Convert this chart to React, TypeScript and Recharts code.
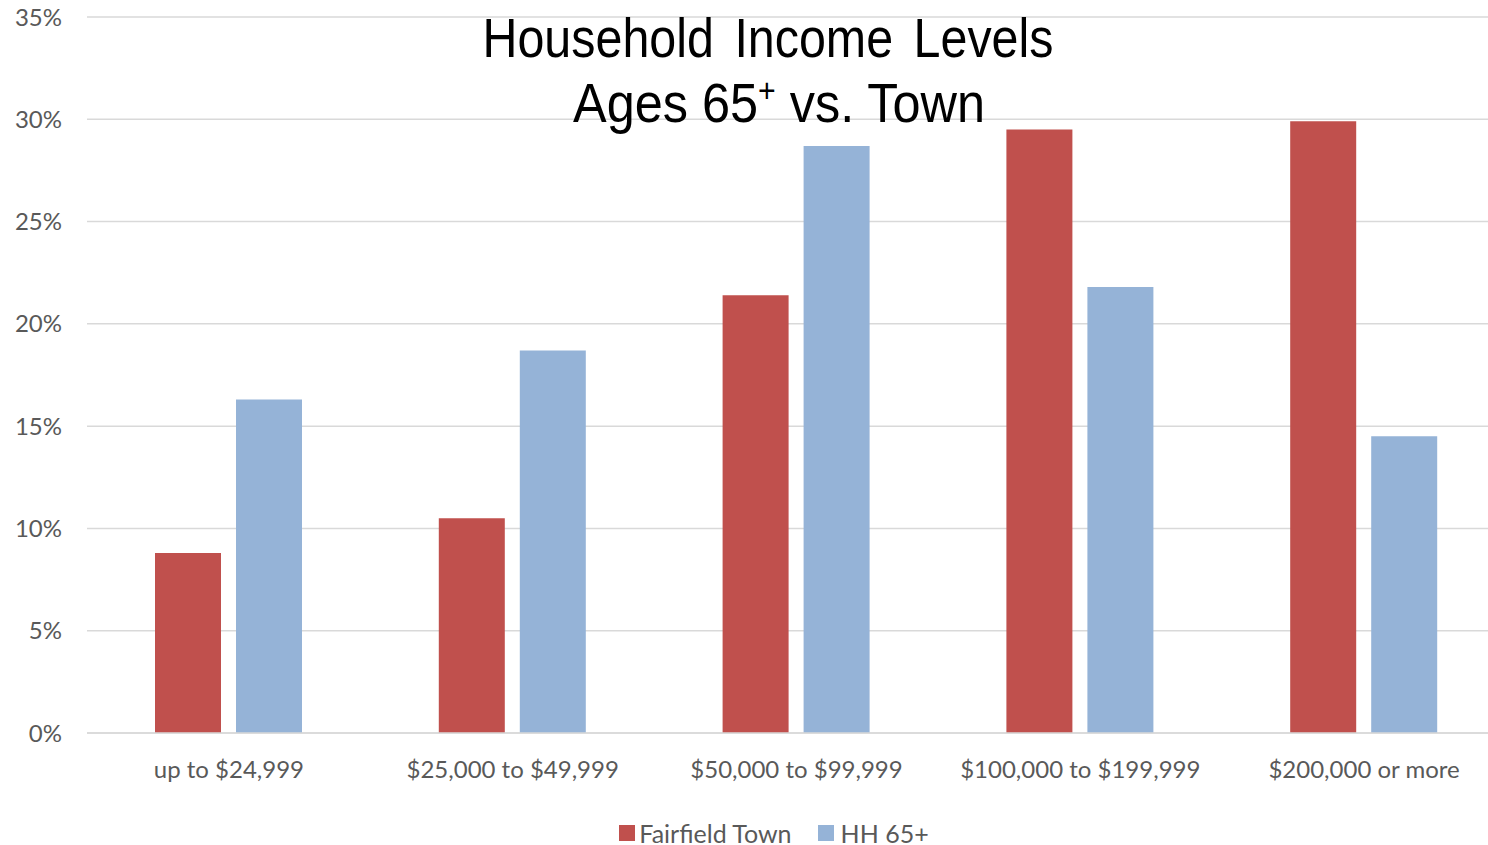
import React from 'react';
import { BarChart, Bar, XAxis, YAxis, CartesianGrid, Legend, Customized } from 'recharts';

const categories = ['up to $24,999', '$25,000 to $49,999', '$50,000 to $99,999', '$100,000 to $199,999', '$200,000 or more'];
const fairfieldTown = [8.8, 10.5, 21.4, 29.5, 29.9];
const hh65 = [16.3, 18.7, 28.7, 21.8, 14.5];
const yTicks = [0, 5, 10, 15, 20, 25, 30, 35];

const data = categories.map((c, i) => ({ name: c, town: fairfieldTown[i], hh: hh65[i] }));

const RED = '#C0504D';
const BLUE = '#95B3D7';
const LABEL = '#595959';
const TICK_FONT = 'Lato, "Open Sans", sans-serif';
const TITLE_FONT = '"Liberation Sans", Arial, sans-serif';

const Title = () => (
  <g>
    <text x={768} y={57} textAnchor="middle" fontFamily={TITLE_FONT} fontSize={55} fill="#000" wordSpacing={8} textLength={571} lengthAdjust="spacingAndGlyphs">
      Household Income Levels
    </text>
    <text x={779} y={122} textAnchor="middle" fontFamily={TITLE_FONT} fontSize={55} fill="#000" textLength={412} lengthAdjust="spacingAndGlyphs">
      Ages 65<tspan fontSize={33} dy={-20}>+</tspan><tspan dy={20}> vs. Town</tspan>
    </text>
  </g>
);

const LegendContent = () => (
  <div style={{ display: 'flex', justifyContent: 'center', alignItems: 'center', height: 50, paddingTop: 26, boxSizing: 'border-box', fontFamily: TICK_FONT, fontSize: 25, lineHeight: '24px', color: LABEL, marginLeft: 42 }}>
    <span style={{ display: 'inline-block', width: 16, height: 16, background: RED, marginRight: 4 }} />
    <span style={{ marginRight: 26 }}>Fairfield Town</span>
    <span style={{ display: 'inline-block', width: 16, height: 16, background: BLUE, marginRight: 7 }} />
    <span>HH 65+</span>
  </div>
);

export default function App() {
  return (
    <div style={{ position: 'absolute', left: 0, top: 0, width: 1488, height: 845, overflow: 'hidden', background: '#fff' }}>
      <BarChart
        width={1506}
        height={845}
        data={data}
        margin={{ top: 17, right: 0, left: 0, bottom: 0 }}
        barGap={15}
        barSize={66}
      >
        <CartesianGrid vertical={false} stroke="#D9D9D9" strokeWidth={1.5} />
        <XAxis
          dataKey="name"
          axisLine={{ stroke: '#D9D9D9', strokeWidth: 1.5 }}
          tickLine={false}
          height={62}
          tickMargin={22}
          interval={0}
          tick={{ fill: LABEL, fontSize: 24, fontFamily: TICK_FONT }}
        />
        <YAxis
          width={87}
          domain={[0, 35]}
          ticks={yTicks}
          tickFormatter={(v: number) => `${v}%`}
          axisLine={false}
          tickLine={false}
          tickMargin={19}
          tick={{ fill: LABEL, fontSize: 24, fontFamily: TICK_FONT }}
        />
        <Legend verticalAlign="bottom" height={50} content={<LegendContent />} />
        <Bar dataKey="town" name="Fairfield Town" fill={RED} isAnimationActive={false} />
        <Bar dataKey="hh" name="HH 65+" fill={BLUE} isAnimationActive={false} />
        <Customized component={<Title />} />
      </BarChart>
    </div>
  );
}
